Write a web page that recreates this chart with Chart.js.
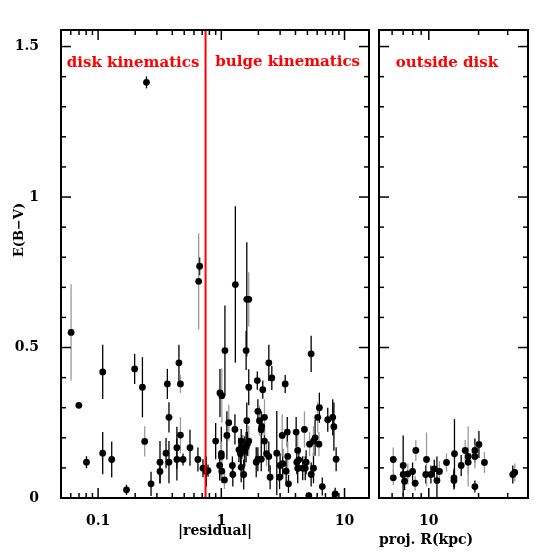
<!DOCTYPE html>
<html>
<head>
<meta charset="utf-8">
<script src="https://cdn.jsdelivr.net/npm/chart.js@4.4.1/dist/chart.umd.min.js"></script>
<style>
  body { margin: 0; background: #fff; }
  #quadro { position: relative; width: 558px; height: 558px; }
  #quadro canvas { position: absolute; left: 0; top: 0; }
</style>
</head>
<body>
<div id="quadro">
  <canvas id="painelResiduo" width="558" height="558"></canvas>
  <canvas id="painelFora" width="558" height="558"></canvas>
</div>
<script>
// |residual| vs E(B-V), sources with black error bars
const resBlackX = [0.0698, 0.0805, 0.109, 0.109, 0.129, 0.170, 0.198, 0.229, 0.247, 0.269,
  0.318, 0.318, 0.356, 0.365, 0.376, 0.376, 0.436, 0.436, 0.453, 0.489,
  0.557, 0.646, 0.667, 0.71, 0.756, 0.78, 0.90, 0.975, 1.07, 0.97,
  1.0, 1.11, 1.23, 1.24, 1.29, 1.30, 1.39, 1.43, 1.45, 1.45,
  1.52, 1.59, 1.61, 1.59, 1.61, 1.67, 1.92, 1.96, 1.98, 1.98,
  2.11, 2.13, 2.17, 2.11, 2.24, 2.43, 2.57, 2.43, 2.49, 2.82,
  2.97, 3.0, 3.15, 3.30, 3.43, 3.36, 3.51, 4.05, 4.1, 4.25,
  4.17, 4.58, 4.88, 4.8, 5.36, 5.36, 5.13, 5.6, 5.77, 6.25,
  6.6, 7.31, 8.02, 8.2, 8.55, 8.4, 1.47, 1.55, 1.63];
const resBlackY = [0.308, 0.119, 0.419, 0.149, 0.128, 0.027, 0.429, 0.368, 1.381, 0.047,
  0.119, 0.088, 0.149, 0.379, 0.268, 0.119, 0.167, 0.128, 0.449, 0.128,
  0.167, 0.128, 0.77, 0.099, 0.088, 0.091, 0.189, 0.349, 0.49, 0.108,
  0.147, 0.208, 0.108, 0.078, 0.228, 0.709, 0.16, 0.147, 0.189, 0.102,
  0.078, 0.169, 0.66, 0.49, 0.257, 0.368, 0.119, 0.39, 0.288, 0.129,
  0.227, 0.238, 0.36, 0.129, 0.189, 0.449, 0.399, 0.138, 0.069, 0.149,
  0.069, 0.108, 0.114, 0.379, 0.219, 0.089, 0.047, 0.219, 0.119, 0.127,
  0.099, 0.099, 0.119, 0.099, 0.479, 0.078, 0.008, 0.099, 0.2, 0.3,
  0.038, 0.26, 0.268, 0.237, 0.129, 0.014, 0.17, 0.155, 0.18];
const resBlackErr = [0.008, 0.02, 0.09, 0.07, 0.06, 0.017, 0.05, 0.10, 0.02, 0.04,
  0.07, 0.04, 0.05, 0.05, 0.05, 0.07, 0.07, 0.07, 0.06, 0.02,
  0.06, 0.04, 0.03, 0.03, 0.05, 0.02, 0.06, 0.08, 0.15, 0.05,
  0.09, 0.08, 0.03, 0.04, 0.05, 0.26, 0.04, 0.05, 0.04, 0.05,
  0.05, 0.05, 0.19, 0.065, 0.06, 0.06, 0.05, 0.03, 0.04, 0.04,
  0.06, 0.03, 0.03, 0.04, 0.04, 0.06, 0.04, 0.05, 0.04, 0.14,
  0.04, 0.04, 0.05, 0.03, 0.05, 0.04, 0.03, 0.05, 0.04, 0.04,
  0.05, 0.04, 0.04, 0.04, 0.06, 0.04, 0.01, 0.05, 0.06, 0.05,
  0.03, 0.04, 0.06, 0.08, 0.04, 0.02, 0.04, 0.05, 0.04];

// |residual| vs E(B-V), sources with grey error bars
const resGreyX = [0.0604, 0.239, 0.466, 0.466, 0.655, 1.01, 1.0, 1.01, 1.06, 1.15,
  1.50, 1.67, 1.67, 2.04, 2.24, 2.33, 3.12, 3.46, 4.17, 4.73,
  5.2, 5.6, 6.06, 6.2];
const resGreyY = [0.55, 0.188, 0.379, 0.209, 0.72, 0.34, 0.138, 0.089, 0.06, 0.25,
  0.169, 0.66, 0.189, 0.257, 0.268, 0.147, 0.208, 0.138, 0.158, 0.228,
  0.179, 0.189, 0.268, 0.179];
const resGreyErr = [0.16, 0.05, 0.03, 0.06, 0.16, 0.09, 0.05, 0.04, 0.03, 0.06,
  0.04, 0.09, 0.05, 0.05, 0.06, 0.04, 0.07, 0.05, 0.06, 0.06,
  0.04, 0.05, 0.05, 0.04];

// proj. R (kpc) vs E(B-V), outside the disk
const outBlackX = [7.0, 7.0, 7.14, 7.98, 9.59, 10.3, 11.2, 14.3, 14.2, 14.2, 15.7, 19.0, 19.0, 20.1, 32.2, 10.8];
const outBlackY = [0.108, 0.078, 0.056, 0.088, 0.078, 0.078, 0.058, 0.147, 0.067, 0.058, 0.108, 0.158, 0.038, 0.178, 0.078, 0.097];
const outBlackErr = [0.1, 0.03, 0.03, 0.03, 0.03, 0.03, 0.08, 0.115, 0.03, 0.03, 0.035, 0.04, 0.02, 0.045, 0.03, 0.03];
const outGreyX = [6.1, 6.1, 7.47, 8.27, 8.35, 9.69, 11.6, 12.8, 16.6, 17.3, 17.3, 19.0, 21.7, 33.1];
const outGreyY = [0.128, 0.067, 0.080, 0.049, 0.158, 0.128, 0.088, 0.118, 0.158, 0.138, 0.119, 0.138, 0.118, 0.085];
const outGreyErr = [0.04, 0.025, 0.035, 0.025, 0.035, 0.09, 0.035, 0.03, 0.035, 0.1, 0.04, 0.04, 0.035, 0.03];

// divisão disco / bojo
const kinematicsCut = 0.745;

const yTicks = [0, 0.5, 1, 1.5];
const resTicks = [0.1, 1, 10];
const outTicks = [10];

const FONT = "'DejaVu Serif', serif";
Chart.defaults.font.family = FONT;
Chart.defaults.font.weight = "bold";
Chart.defaults.font.size = 14;
Chart.defaults.color = "#000";

const toPoints = (xs, ys) => xs.map((x, i) => ({ x: x, y: ys[i] }));

// barras de erro verticais, antes dos pontos
const errorBars = {
  id: "errorBars",
  beforeDatasetsDraw(chart) {
    const { ctx, chartArea: a, scales: { x, y } } = chart;
    ctx.save();
    ctx.beginPath();
    ctx.rect(a.left, a.top, a.width, a.height);
    ctx.clip();
    ctx.lineWidth = 1.3;
    chart.data.datasets.forEach(ds => {
      if (!ds.errors) return;
      ctx.strokeStyle = ds.errorColor;
      ds.data.forEach((p, i) => {
        const px = x.getPixelForValue(p.x);
        ctx.beginPath();
        ctx.moveTo(px, y.getPixelForValue(p.y - ds.errors[i]));
        ctx.lineTo(px, y.getPixelForValue(p.y + ds.errors[i]));
        ctx.stroke();
      });
    });
    ctx.restore();
  }
};

// moldura com ticks para dentro nos quatro lados
const frame = {
  id: "frame",
  afterDraw(chart) {
    const { ctx, chartArea: a, scales: { x, y } } = chart;
    ctx.save();
    ctx.strokeStyle = "#000";
    ctx.lineWidth = 2;
    ctx.strokeRect(a.left, a.top, a.width, a.height);
    ctx.lineWidth = 1.5;
    const seg = (x1, y1, x2, y2) => {
      ctx.beginPath();
      ctx.moveTo(x1, y1);
      ctx.lineTo(x2, y2);
      ctx.stroke();
    };
    for (let k = 0; k * 0.1 <= y.max + 1e-9; k++) {
      const py = y.getPixelForValue(k * 0.1);
      const len = k % 5 === 0 ? 10 : 5;
      seg(a.left, py, a.left + len, py);
      seg(a.right, py, a.right - len, py);
    }
    const d0 = Math.floor(Math.log10(x.min));
    const d1 = Math.ceil(Math.log10(x.max));
    for (let d = d0; d <= d1; d++) {
      for (let m = 1; m <= 9; m++) {
        const v = m * Math.pow(10, d);
        if (v <= x.min * 1.001 || v >= x.max * 0.999) continue;
        const px = x.getPixelForValue(v);
        const len = m === 1 ? 10 : 5;
        seg(px, a.top, px, a.top + len);
        seg(px, a.bottom, px, a.bottom - len);
      }
    }
    ctx.restore();
  }
};

// textos vermelhos, ancorados em coordenadas de dados
const labels = {
  id: "labels",
  afterDraw(chart, args, opts) {
    const { ctx, scales: { x, y } } = chart;
    ctx.save();
    ctx.fillStyle = "#ff0000";
    ctx.font = `bold 15px ${FONT}`;
    ctx.textAlign = "left";
    ctx.textBaseline = "alphabetic";
    (opts.items || []).forEach(t => {
      ctx.fillText(t.text, x.getPixelForValue(t.x), y.getPixelForValue(t.y));
    });
    if (opts.yTitle) {
      ctx.fillStyle = "#000";
      ctx.font = `bold 13px ${FONT}`;
      ctx.textAlign = "center";
      ctx.textBaseline = "middle";
      ctx.translate(20, 230);
      ctx.rotate(-Math.PI / 2);
      ctx.fillText(opts.yTitle, 0, 0);
    }
    ctx.restore();
  }
};

function setTicks(values) {
  return scale => { scale.ticks = values.map(v => ({ value: v })); };
}

function yScale(show) {
  const s = {
    type: "linear",
    min: 0,
    max: 1.555,
    display: show,
    grid: { display: false },
    border: { display: false },
    afterBuildTicks: setTicks(yTicks),
    ticks: { padding: 14, autoSkip: false, callback: v => String(v) }
  };
  if (show) s.afterFit = sc => { sc.width = 61; };
  return s;
}

function xScale(min, max, tickValues, title, titleAlign, titlePad) {
  return {
    type: "logarithmic",
    min: min,
    max: max,
    grid: { display: false },
    border: { display: false },
    afterBuildTicks: setTicks(tickValues),
    afterFit: s => { s.height = 60; },
    ticks: { padding: 7, autoSkip: false, maxRotation: 0, callback: v => String(v) },
    title: { display: true, text: title, align: titleAlign, padding: { top: 0, bottom: titlePad } }
  };
}

function pointSet(xs, ys, errs, errColor) {
  return {
    data: toPoints(xs, ys),
    errors: errs,
    errorColor: errColor,
    pointRadius: 3.4,
    pointBackgroundColor: "#000",
    pointBorderWidth: 0,
    clip: false,
    order: 1
  };
}

const common = {
  responsive: false,
  animation: false,
  events: [],
  plugins: { legend: { display: false }, tooltip: { enabled: false } }
};

new Chart(document.getElementById("painelResiduo"), {
  type: "scatter",
  data: {
    datasets: [
      pointSet(resBlackX, resBlackY, resBlackErr, "#000"),
      pointSet(resGreyX, resGreyY, resGreyErr, "#9a9a9a"),
      {
        type: "line",
        data: [{ x: kinematicsCut, y: 0 }, { x: kinematicsCut, y: 1.555 }],
        borderColor: "#ff0000",
        borderWidth: 2,
        pointRadius: 0,
        order: 0
      }
    ]
  },
  options: {
    ...common,
    layout: { padding: { left: 0, top: 30, right: 189, bottom: 0 } },
    scales: {
      x: xScale(0.05, 15.8, resTicks, "|residual|", "center", 18.6),
      y: yScale(true)
    },
    plugins: {
      ...common.plugins,
      labels: {
        items: [
          { text: "disk kinematics", x: 0.0557, y: 1.431 },
          { text: "bulge kinematics", x: 0.894, y: 1.437 }
        ],
        yTitle: "E(B\u2212V)"
      }
    }
  },
  plugins: [errorBars, frame, labels]
});

new Chart(document.getElementById("painelFora"), {
  type: "scatter",
  data: {
    datasets: [
      pointSet(outBlackX, outBlackY, outBlackErr, "#000"),
      pointSet(outGreyX, outGreyY, outGreyErr, "#9a9a9a")
    ]
  },
  options: {
    ...common,
    layout: { padding: { left: 379, top: 30, right: 30, bottom: 0 } },
    scales: {
      x: xScale(5, 39.8, outTicks, "proj. R(kpc)", "start", 9.6),
      y: yScale(false)
    },
    plugins: {
      ...common.plugins,
      labels: { items: [{ text: "outside disk", x: 6.32, y: 1.431 }] }
    }
  },
  plugins: [errorBars, frame, labels]
});
</script>
</body>
</html>
